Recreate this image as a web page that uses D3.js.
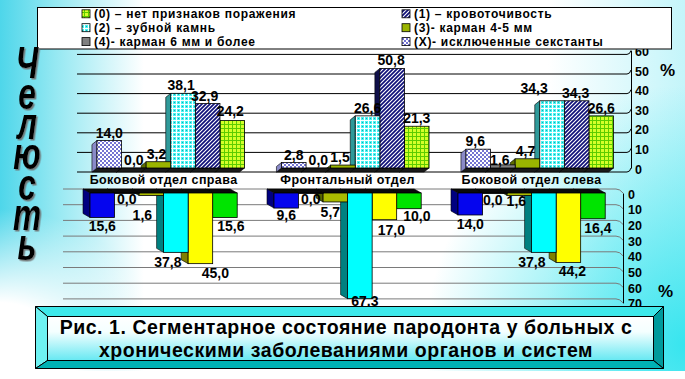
<!DOCTYPE html>
<html><head><meta charset="utf-8">
<script src="https://cdn.jsdelivr.net/npm/d3@7"></script>
<style>body{margin:0;background:#fff}svg{display:block;font-family:"Liberation Sans",Arial,sans-serif}</style>
</head><body><svg id="c" width="685" height="379"></svg>
<script>
// ---------------- data ----------------
const categories = ["Боковой отдел справа", "Фронтальный отдел", "Боковой отдел слева"];
const seriesKeys = ["X", "4", "3", "2", "1", "0"];
// upper chart (above)
const upperX = [14.0, 2.8, 9.6];
const upper4 = [0.0, 0.0, 1.6];
const upper3 = [3.2, 1.5, 4.7];
const upper2 = [38.1, 26.6, 34.3];
const upper1 = [32.9, 50.8, 34.3];
const upper0 = [24.2, 21.3, 26.6];
// lower chart (below)
const lowerX = [15.6, 9.6, 14.0];
const lower4 = [0.0, 0.0, 0.0];
const lower3 = [1.6, 5.7, 1.6];
const lower2 = [37.8, 67.3, 37.8];
const lower1 = [45.0, 17.0, 44.2];
const lower0 = [15.6, 10.0, 16.4];
const upperTicks = [0, 10, 20, 30, 40, 50, 60];
const lowerTicks = [0, 10, 20, 30, 40, 50, 60, 70];
const legendKeys = ["0", "1", "2", "3", "4", "X"];
const legendLabels = ["(0) – нет признаков поражения", "(1) – кровоточивость", "(2) – зубной камнь",
  "(3)- карман 4-5 мм", "(4)- карман 6 мм и более", "(X)- исключенные секстанты"];
const titleLines = ["Рис. 1. Сегментарное состояние пародонта у больных с",
  "хроническими заболеваниями органов и систем"];
const sideLabel = "Челюсть";
const unitLabel = "%";

const upper = {X: upperX, "4": upper4, "3": upper3, "2": upper2, "1": upper1, "0": upper0};
const lower = {X: lowerX, "4": lower4, "3": lower3, "2": lower2, "1": lower1, "0": lower0};

// ---------------- styles ----------------
const topFace = {X: "url(#pX)", "4": "#808080", "3": "#9ab400", "2": "url(#p2)", "1": "url(#p1)", "0": "url(#p0)"};
const topSide = {X: "#8a8ac8", "4": "#505050", "3": "#5e6e00", "2": "#2f9a9a", "1": "#10104a", "0": "#6aa800"};
const botFace = {X: "#0505ee", "4": "#303030", "3": "#aabb00", "2": "#00ffff", "1": "#ffff00", "0": "#00e400"};
const botSide = {X: "#000080", "4": "#101010", "3": "#5a6400", "2": "#008080", "1": "#808000", "0": "#007a00"};
// label nudges (px) per series, per category
const topNudgeDx = {X: [0, 0, -3], "4": [0, 0, -3], "3": [-2, -3, -2], "2": [-2, 0, -18], "1": [-3, -1, -1], "0": [-2, 0, 0]};
const topNudgeDy = {X: [0, 0, 0], "4": [0, 0, 3], "3": [0, 0, 0], "2": [0, 0, -5], "1": [0, 0, 0], "0": [-2, 0, 0]};
const botNudgeDx = {X: [0, 0, 0], "4": [0, 0, -2], "3": [-9, -5, -3], "2": [-8, 5, -12], "1": [15, 7, 4], "0": [6, 8, 5]};
const botNudgeDy = {X: [0, -2, 0], "4": [-3, -3, -2], "3": [10, 1, -4], "2": [1, 0, 1], "1": [0, 1, 0], "0": [0, -2, 0]};
const fmt = v => d3.format(".1f")(v).replace(".", ",");

const svg = d3.select("#c");
const W = 685, H = 379;
const defs = svg.append("defs");

function pattern(id, w, h, bg, draw) {
  const p = defs.append("pattern").attr("id", id).attr("patternUnits", "userSpaceOnUse")
    .attr("width", w).attr("height", h);
  p.append("rect").attr("width", w).attr("height", h).attr("fill", bg);
  draw(p);
}
pattern("pX", 4, 4, "#ffffff", p => {
  p.append("rect").attr("width", 2).attr("height", 2).attr("fill", "#7474d2");
  p.append("rect").attr("x", 2).attr("y", 2).attr("width", 2).attr("height", 2).attr("fill", "#7474d2");
});
pattern("p2", 4, 4, "#48f4f4", p => {
  p.append("rect").attr("width", 4).attr("height", 1).attr("fill", "#ffffff");
  p.append("rect").attr("width", 1).attr("height", 4).attr("fill", "#ffffff");
  p.append("rect").attr("x", 2).attr("y", 2).attr("width", 1).attr("height", 1).attr("fill", "#20a8a8");
});
pattern("p1", 4, 4, "#10107a", p => {
  p.append("path").attr("d", "M-1,1L1,-1M0,4L4,0M3,5L5,3").attr("stroke", "#ffffff").attr("stroke-width", 1.1);
});
pattern("p0", 4, 4, "#d4ff2a", p => {
  p.append("rect").attr("width", 4).attr("height", 1).attr("fill", "#5ccc00");
  p.append("rect").attr("width", 1).attr("height", 4).attr("fill", "#5ccc00");
});
const shadow = defs.append("filter").attr("id", "shd").attr("x", "-30%").attr("y", "-10%").attr("width", "170%").attr("height", "130%");
shadow.append("feDropShadow").attr("dx", 2).attr("dy", 1.5).attr("stdDeviation", 0.6)
  .attr("flood-color", "#707070").attr("flood-opacity", 0.9);

// background gradients
const gH = defs.append("linearGradient").attr("id", "bgH").attr("x1", 0).attr("x2", 1).attr("y1", 0).attr("y2", 0);
[[0, "#4ed6ea"], [0.08, "#94e8f2"], [0.21, "#ffffff"], [0.8, "#ffffff"], [1, "#c4f5fa"]]
  .forEach(s => gH.append("stop").attr("offset", s[0]).attr("stop-color", s[1]));
const gR1 = defs.append("radialGradient").attr("id", "bgR1").attr("gradientUnits", "userSpaceOnUse")
  .attr("cx", 0).attr("cy", 379).attr("r", 170);
[[0, "#ffffff", 1], [0.45, "#ffffff", 1], [1, "#ffffff", 0]]
  .forEach(s => gR1.append("stop").attr("offset", s[0]).attr("stop-color", s[1]).attr("stop-opacity", s[2]));
const gR2 = defs.append("radialGradient").attr("id", "bgR2").attr("gradientUnits", "userSpaceOnUse")
  .attr("cx", 685).attr("cy", 345).attr("r", 260);
[[0, "#30e4ee", 0.95], [1, "#30e4ee", 0]]
  .forEach(s => gR2.append("stop").attr("offset", s[0]).attr("stop-color", s[1]).attr("stop-opacity", s[2]));
const gT = defs.append("linearGradient").attr("id", "gT").attr("x1", 0).attr("x2", 0).attr("y1", 0).attr("y2", 1);
[[0, "#ffffff"], [0.35, "#f4ffff"], [1, "#66e8f2"]]
  .forEach(s => gT.append("stop").attr("offset", s[0]).attr("stop-color", s[1]));

svg.append("rect").attr("width", W).attr("height", H).attr("fill", "url(#bgH)");
svg.append("rect").attr("width", W).attr("height", H).attr("fill", "url(#bgR1)");
svg.append("rect").attr("width", W).attr("height", H).attr("fill", "url(#bgR2)");
svg.append("rect").attr("y", 371).attr("width", W).attr("height", 8).attr("fill", "#ffffff");

// ---------------- scales ----------------
const xTop = d3.scaleBand().domain(categories).range([78.5, 632]).paddingInner(0.2).paddingOuter(0.1);
const xBot = d3.scaleBand().domain(categories).range([71.6, 623.6]).paddingInner(0.2).paddingOuter(0.1);
const sTop = d3.scaleBand().domain(seriesKeys).range([0, xTop.bandwidth()]);
const sBot = d3.scaleBand().domain(seriesKeys).range([0, xBot.bandwidth()]);
const yTop = d3.scaleLinear().domain([0, 60]).range([168, 50.4]);
const yBot = d3.scaleLinear().domain([0, 70]).range([193, 302.9]);

// ---------------- upper gridlines + axis ----------------
const gTop = svg.append("g");
upperTicks.forEach(t => {
  const y = yTop(t);
  gTop.append("path").attr("d", `M77,${y + 4}L627,${y + 4}Q630,${y + 4} 631,${y}`)
    .attr("fill", "none").attr("stroke", "#000").attr("stroke-width", 1);
});
const axT = svg.append("g").attr("transform", "translate(631,0)")
  .call(d3.axisRight(yTop).tickValues(upperTicks).tickSize(0).tickSizeOuter(0).tickPadding(4));
axT.select(".domain").attr("stroke", "#000");
axT.selectAll("text").attr("font-family", "Liberation Sans, Arial, sans-serif").attr("font-size", 12.5)
  .attr("font-weight", "bold").attr("fill", "#000").attr("dy", "0.4em");
svg.append("text").attr("x", 660).attr("y", 76).attr("font-size", 17).attr("font-weight", "bold").text(unitLabel);

// ---------------- lower gridlines + axis ----------------
const gBot = svg.append("g");
lowerTicks.forEach(t => {
  const y = yBot(t);
  gBot.append("path").attr("d", `M63,${y - 4}L616,${y - 4}Q620,${y - 4} 623,${y}`)
    .attr("fill", "none").attr("stroke", "#7a7a7a").attr("stroke-width", 1);
});
const axB = svg.append("g").attr("transform", "translate(623,0)")
  .call(d3.axisRight(yBot).tickValues(lowerTicks).tickSize(0).tickSizeOuter(0).tickPadding(5));
axB.select(".domain").attr("stroke", "#000");
axB.selectAll("text").attr("font-family", "Liberation Sans, Arial, sans-serif").attr("font-size", 12.5)
  .attr("font-weight", "bold").attr("fill", "#000").attr("dy", "0.4em");
svg.append("text").attr("x", 658).attr("y", 297).attr("font-size", 17).attr("font-weight", "bold").text(unitLabel);

// ---------------- upper bars (3D) ----------------
const dT = {x: -5, y: 4};
const barsTop = svg.append("g");
categories.forEach((c, ci) => {
  seriesKeys.slice().reverse().forEach(k => {
    const v = upper[k][ci];
    const x0 = xTop(c) + sTop(k), x1 = x0 + sTop.bandwidth();
    const y0 = yTop(0), yt = yTop(v);
    const g = barsTop.append("g");
    g.append("path").attr("d", `M${x0},${y0}L${x1},${y0}L${x1 + dT.x},${y0 + dT.y}L${x0 + dT.x},${y0 + dT.y}Z`)
      .attr("fill", "#1a1a1a").attr("stroke", "#000").attr("stroke-width", 0.6);
    g.append("path").attr("d", `M${x0},${yt}L${x0 + dT.x},${yt + dT.y}L${x0 + dT.x},${y0 + dT.y}L${x0},${y0}Z`)
      .attr("fill", topSide[k]).attr("stroke", "#000").attr("stroke-width", 0.6);
    g.append("rect").attr("x", x0).attr("y", yt).attr("width", x1 - x0).attr("height", Math.max(0.5, y0 - yt))
      .attr("fill", topFace[k]).attr("stroke", "#000").attr("stroke-width", 0.8);
  });
});
categories.forEach((c, ci) => {
  seriesKeys.forEach(k => {
    const v = upper[k][ci];
    const cx = xTop(c) + sTop(k) + sTop.bandwidth() / 2 + topNudgeDx[k][ci];
    svg.append("text").attr("x", cx).attr("y", yTop(v) - 3 + topNudgeDy[k][ci]).attr("text-anchor", "middle")
      .attr("font-size", 14).attr("font-weight", "bold").attr("fill", "#000").text(fmt(v));
  });
});

// ---------------- lower bars (3D, hanging) ----------------
const dB = {x: -7, y: -4};
const barsBot = svg.append("g");
categories.forEach((c, ci) => {
  seriesKeys.slice().reverse().forEach(k => {
    const v = lower[k][ci];
    const x0 = xBot(c) + sBot(k), x1 = x0 + sBot.bandwidth();
    const y0 = yBot(0), yb = yBot(v);
    const g = barsBot.append("g");
    g.append("path").attr("d", `M${x0},${y0}L${x1},${y0}L${x1 + dB.x},${y0 + dB.y}L${x0 + dB.x},${y0 + dB.y}Z`)
      .attr("fill", "#0a0a0a").attr("stroke", "#000").attr("stroke-width", 0.6);
    g.append("path").attr("d", `M${x0},${yb}L${x0 + dB.x},${yb + dB.y}L${x0 + dB.x},${y0 + dB.y}L${x0},${y0}Z`)
      .attr("fill", botSide[k]).attr("stroke", "#000").attr("stroke-width", 0.6);
    g.append("rect").attr("x", x0).attr("y", y0).attr("width", x1 - x0).attr("height", Math.max(0.5, yb - y0))
      .attr("fill", botFace[k]).attr("stroke", "#000").attr("stroke-width", 0.8);
  });
});
categories.forEach((c, ci) => {
  seriesKeys.forEach(k => {
    const v = lower[k][ci];
    const cx = xBot(c) + sBot(k) + sBot.bandwidth() / 2 + botNudgeDx[k][ci];
    svg.append("text").attr("x", cx).attr("y", Math.min(yBot(v) + 14 + botNudgeDy[k][ci], 306))
      .attr("text-anchor", "middle")
      .attr("font-size", 14).attr("font-weight", "bold").attr("fill", "#000").text(fmt(v));
  });
});

// category labels
categories.forEach(c => {
  svg.append("text").attr("x", xBot(c) + xBot.bandwidth() / 2).attr("y", 184).attr("text-anchor", "middle")
    .attr("font-size", 12.5).attr("font-weight", "bold").attr("letter-spacing", 0.4).attr("fill", "#000").text(c);
});

// ---------------- legend ----------------
svg.append("rect").attr("x", 37.5).attr("y", 7.5).attr("width", 634).attr("height", 41.5)
  .attr("fill", "#fff").attr("stroke", "#000").attr("stroke-width", 1);
legendKeys.forEach((k, i) => {
  const col = i % 2, row = Math.floor(i / 2);
  const mx = col === 0 ? 82 : 402, by = 18.3 + row * 13.9;
  svg.append("rect").attr("x", mx).attr("y", by - 8.5).attr("width", 8).attr("height", 8)
    .attr("fill", topFace[k]).attr("stroke", "#000").attr("stroke-width", 0.8);
  svg.append("text").attr("x", mx + 12).attr("y", by).attr("font-size", 12).attr("font-weight", "bold")
    .attr("letter-spacing", 0.7).attr("fill", "#000").text(legendLabels[i]);
});

// ---------------- side label (single vertical text) ----------------
const sx = 0.72;
svg.append("text").attr("transform", `scale(${sx},1)`).attr("x", 27 / sx).attr("y", 38)
  .style("writing-mode", "vertical-rl").style("text-orientation", "upright")
  .attr("font-size", 44).attr("letter-spacing", -19).attr("font-weight", "bold").attr("font-style", "italic")
  .attr("fill", "#000").attr("filter", "url(#shd)").text(sideLabel);

// ---------------- title box ----------------
const o = {x0: 35.5, y0: 306.5, x1: 663.5, y1: 368.5}, n = {x0: 47.5, y0: 316.5, x1: 653.5, y1: 360.5};
const tb = svg.append("g");
const poly = (pts, fill) => tb.append("path").attr("d", "M" + pts.map(p => p.join(",")).join("L") + "Z")
  .attr("fill", fill).attr("stroke", "#000").attr("stroke-width", 1);
poly([[o.x0, o.y0], [o.x1, o.y0], [n.x1, n.y0], [n.x0, n.y0]], "#3ee8ea");
poly([[o.x0, o.y0], [n.x0, n.y0], [n.x0, n.y1], [o.x0, o.y1]], "#6ef2f2");
poly([[o.x1, o.y0], [o.x1, o.y1], [n.x1, n.y1], [n.x1, n.y0]], "#009a9c");
poly([[o.x0, o.y1], [n.x0, n.y1], [n.x1, n.y1], [o.x1, o.y1]], "#00b2b4");
tb.append("rect").attr("x", n.x0).attr("y", n.y0).attr("width", n.x1 - n.x0).attr("height", n.y1 - n.y0)
  .attr("fill", "url(#gT)").attr("stroke", "#000").attr("stroke-width", 1);
titleLines.forEach((t, i) => tb.append("text").attr("x", 346).attr("y", 333.5 + i * 23)
  .attr("text-anchor", "middle").attr("font-size", 19.5).attr("letter-spacing", 0.55)
  .attr("font-weight", "bold").attr("fill", "#000").text(t));
</script></body></html>
